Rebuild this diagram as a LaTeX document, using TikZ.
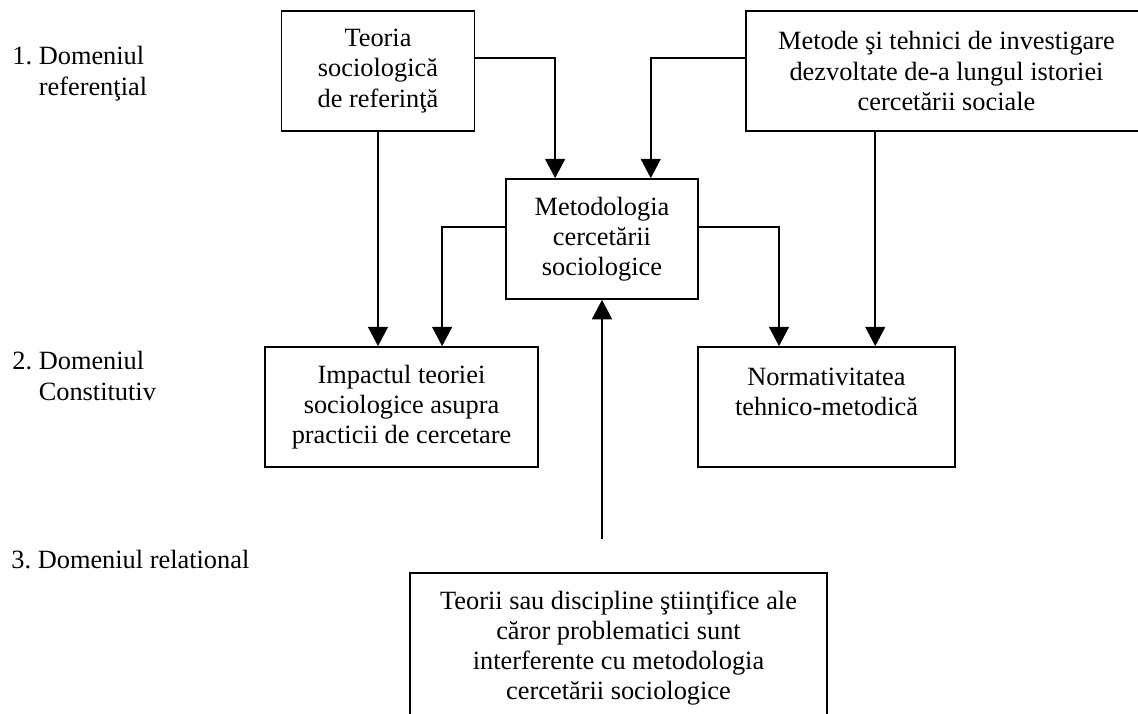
\documentclass[tikz,border=0pt]{standalone}
\usepackage{fontspec}
\setmainfont{Liberation Serif}
\usetikzlibrary{arrows.meta}
\tikzstyle{every node}=[font=\fontsize{12}{13.7}\selectfont]
\tikzstyle{box}=[draw,line width=0.8pt,align=center,minimum height=1.92cm,inner sep=0pt]
\tikzstyle{domlabel}=[align=left,anchor=base west,inner sep=0pt]
\tikzstyle{link}=[line width=0.75pt,-{Triangle[length=0.31cm,width=0.32cm]}]

\begin{document}
\begin{tikzpicture}
  \useasboundingbox (0,0) rectangle (18.208,-11.408);
  \node[domlabel] (dom1) at (0.192,-1.52) {1.\ Domeniul\\\phantom{1.\ }referenţial};
  \node[domlabel] (dom2) at (0.192,-6.4) {2.\ Domeniul\\\phantom{2.\ }Constitutiv};
  \node[domlabel] (dom3) at (0.176,-9.1) {3.\ Domeniul relational};

  \node[box,minimum width=3.088cm] (teoria) at (6.048,-1.136) {Teoria\\sociologică\\de referinţă};
  \node[box,minimum width=6.416cm] (metode) at (15.144,-1.136) {Metode şi tehnici de investigare\\dezvoltate de-a lungul istoriei\\cercetării sociale};
  \node[box,minimum width=3.072cm] (metodologia) at (9.632,-3.824) {Metodologia\\cercetării\\sociologice};
  \node[box,minimum width=4.368cm] (impact) at (6.424,-6.512) {Impactul teoriei\\sociologice asupra\\practicii de cercetare};
  \node[box,minimum width=4.112cm] (norm) at (13.224,-6.512) {Normativitatea\\tehnico-metodică\\~};
  \node[box,minimum width=6.672cm,minimum height=2.4cm] (teorii) at (9.896,-10.368) {Teorii sau discipline ştiinţifice ale\\căror problematici sunt\\interferente cu metodologia\\cercetării sociologice};
  \coordinate (sursa) at (9.632,-8.624);

  \draw[link] ([yshift=0.21cm]teoria.east) -| ([xshift=-0.75cm]metodologia.north);
  \draw[link] ([yshift=0.21cm]metode.west) -| ([xshift=0.78cm]metodologia.north);
  \draw[link] (teoria.south) -- (teoria.south |- impact.north);
  \draw[link] ([yshift=0.19cm]metodologia.west) -| ([xshift=0.65cm]impact.north);
  \draw[link] ([yshift=0.19cm]metodologia.east) -| ([xshift=-0.76cm]norm.north);
  \draw[link] ([xshift=-1.14cm]metode.south) -- ([xshift=-1.14cm]metode.south |- norm.north);
  \draw[link] (sursa) -- (metodologia.south);
\end{tikzpicture}
\end{document}
